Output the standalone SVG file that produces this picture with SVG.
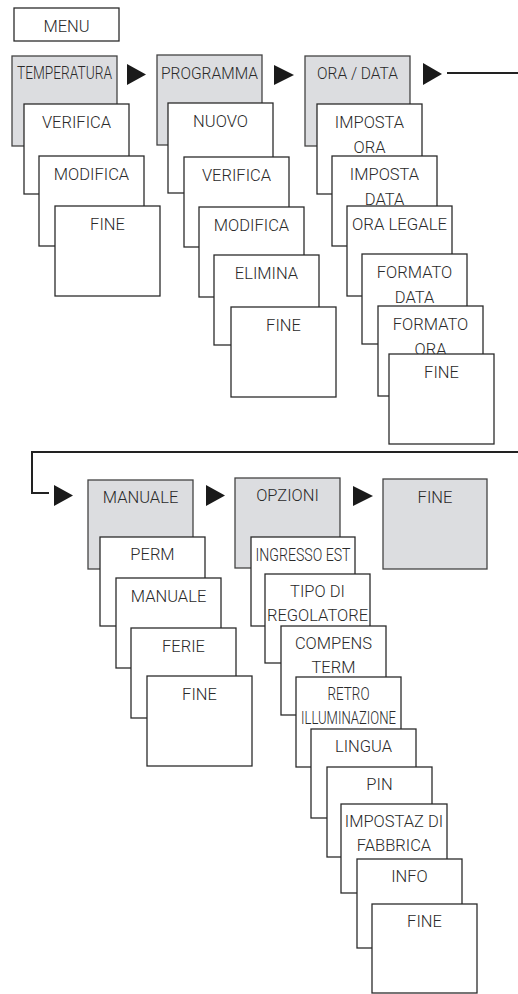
<svg xmlns="http://www.w3.org/2000/svg" width="518" height="994" viewBox="0 0 518 994">
<style>
.b{fill:#fff;stroke:#2b2b2b;stroke-width:1.3}
.g{fill:#dcdde0;stroke:#444;stroke-width:1.3}
.t{font-family:Roboto,"Liberation Sans",sans-serif;font-size:16.5px;font-weight:300;fill:#2a2a2a;text-anchor:middle}
.c{font-size:17.5px}
.ar{fill:#1a1a1a}
.ln{fill:none;stroke:#222;stroke-width:2}
</style>
<rect width="518" height="994" fill="#fff"/>
<g id="menu"><rect class="b" x="14" y="8" width="105" height="33"/><text class="t" x="66.5" y="32">MENU</text></g>

<g id="temperatura"><rect class="g" x="12" y="56" width="105" height="90"/><text class="t c" x="64.5" y="79" textLength="95" lengthAdjust="spacingAndGlyphs">TEMPERATURA</text></g>
<g id="t-verifica"><rect class="b" x="24" y="104" width="105" height="90"/><text class="t" x="76.5" y="128">VERIFICA</text></g>
<g id="t-modifica"><rect class="b" x="39" y="156" width="105" height="90"/><text class="t" x="91.5" y="180">MODIFICA</text></g>
<g id="t-fine"><rect class="b" x="55" y="206" width="105" height="90"/><text class="t" x="107.5" y="230">FINE</text></g>

<g id="programma"><rect class="g" x="157" y="55" width="105" height="90"/><text class="t" x="209.5" y="79" textLength="97" lengthAdjust="spacingAndGlyphs">PROGRAMMA</text></g>
<g id="p-nuovo"><rect class="b" x="168" y="103" width="105" height="90"/><text class="t" x="220.5" y="127">NUOVO</text></g>
<g id="p-verifica"><rect class="b" x="184" y="157" width="105" height="90"/><text class="t" x="236.5" y="181">VERIFICA</text></g>
<g id="p-modifica"><rect class="b" x="199" y="207" width="105" height="90"/><text class="t" x="251.5" y="231">MODIFICA</text></g>
<g id="p-elimina"><rect class="b" x="214" y="255" width="105" height="90"/><text class="t" x="266.5" y="279">ELIMINA</text></g>
<g id="p-fine"><rect class="b" x="231" y="307" width="105" height="90"/><text class="t" x="283.5" y="331">FINE</text></g>

<g id="oradata"><rect class="g" x="305" y="56" width="105" height="90"/><text class="t" x="357.5" y="79" textLength="81" lengthAdjust="spacingAndGlyphs">ORA / DATA</text></g>
<g id="o-impostaora"><rect class="b" x="317" y="104" width="105" height="90"/><text class="t" x="369.5" y="128">IMPOSTA</text><text class="t" x="369.5" y="153">ORA</text></g>
<g id="o-impostadata"><rect class="b" x="332" y="156" width="105" height="90"/><text class="t" x="384.5" y="180">IMPOSTA</text><text class="t" x="384.5" y="205">DATA</text></g>
<g id="o-oralegale"><rect class="b" x="347" y="206" width="105" height="90"/><text class="t" x="399.5" y="230" textLength="95" lengthAdjust="spacingAndGlyphs">ORA LEGALE</text></g>
<g id="o-formatodata"><rect class="b" x="362" y="254" width="105" height="90"/><text class="t" x="414.5" y="278">FORMATO</text><text class="t" x="414.5" y="303">DATA</text></g>
<g id="o-formatoora"><rect class="b" x="378" y="306" width="105" height="90"/><text class="t" x="430.5" y="330">FORMATO</text><text class="t" x="430.5" y="355">ORA</text></g>
<g id="o-fine"><rect class="b" x="389" y="354" width="105" height="90"/><text class="t" x="441.5" y="378">FINE</text></g>

<g id="manuale"><rect class="g" x="88" y="480" width="105" height="89"/><text class="t" x="140.5" y="503">MANUALE</text></g>
<g id="m-perm"><rect class="b" x="100" y="537" width="105" height="89"/><text class="t" x="152.5" y="560">PERM</text></g>
<g id="m-manuale"><rect class="b" x="116" y="578" width="105" height="90"/><text class="t" x="168.5" y="602">MANUALE</text></g>
<g id="m-ferie"><rect class="b" x="131" y="628" width="105" height="90"/><text class="t" x="183.5" y="652">FERIE</text></g>
<g id="m-fine"><rect class="b" x="147" y="676" width="105" height="90"/><text class="t" x="199.5" y="700">FINE</text></g>

<g id="opzioni"><rect class="g" x="235" y="478" width="105" height="90"/><text class="t" x="287.5" y="501">OPZIONI</text></g>
<g id="z-ingresso"><rect class="b" x="251" y="537" width="104" height="89"/><text class="t c" x="303" y="561" textLength="95" lengthAdjust="spacingAndGlyphs">INGRESSO EST</text></g>
<g id="z-tipo"><rect class="b" x="265" y="574" width="105" height="89"/><text class="t" x="317.5" y="597">TIPO DI</text><text class="t" x="317.5" y="621">REGOLATORE</text></g>
<g id="z-compens"><rect class="b" x="281" y="626" width="105" height="89"/><text class="t" x="333.5" y="649">COMPENS</text><text class="t" x="333.5" y="673">TERM</text></g>
<g id="z-retro"><rect class="b" x="296" y="677" width="105" height="90"/><text class="t c" x="348.5" y="700" textLength="42" lengthAdjust="spacingAndGlyphs">RETRO</text><text class="t c" x="348.5" y="724" textLength="95" lengthAdjust="spacingAndGlyphs">ILLUMINAZIONE</text></g>
<g id="z-lingua"><rect class="b" x="311" y="729" width="105" height="89"/><text class="t" x="363.5" y="752">LINGUA</text></g>
<g id="z-pin"><rect class="b" x="327" y="767" width="105" height="90"/><text class="t" x="379.5" y="790">PIN</text></g>
<g id="z-impostaz"><rect class="b" x="341" y="804" width="106" height="89"/><text class="t" x="394" y="827">IMPOSTAZ DI</text><text class="t" x="394" y="851">FABBRICA</text></g>
<g id="z-info"><rect class="b" x="357" y="859" width="105" height="89"/><text class="t" x="409.5" y="882">INFO</text></g>
<g id="z-fine"><rect class="b" x="372" y="904" width="105" height="89"/><text class="t" x="424.5" y="927">FINE</text></g>

<g id="fine"><rect class="g" x="383" y="479" width="104" height="90"/><text class="t" x="435" y="503">FINE</text></g>

<g id="connectors">
<polygon class="ar" points="127,64 146,74.5 127,85"/>
<polygon class="ar" points="274,65 294,75 274,85"/>
<polygon class="ar" points="423,63 442,74 423,85"/>
<line class="ln" x1="447" y1="73" x2="518" y2="73"/>
<polyline class="ln" points="518,452 32,452 32,493 49,493"/>
<polygon class="ar" points="54,485 73,495.5 54,506"/>
<polygon class="ar" points="206,485 225,495.5 206,506"/>
<polygon class="ar" points="353,486 373,496 353,506"/>
</g>
</svg>
